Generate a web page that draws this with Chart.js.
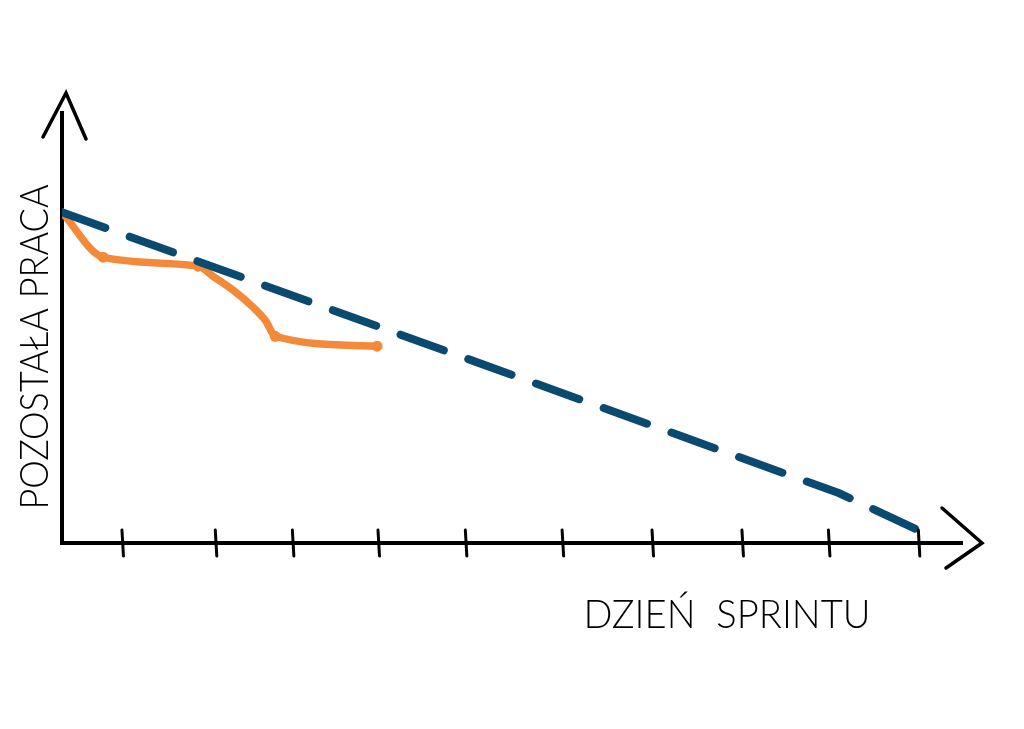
<!DOCTYPE html>
<html>
<head>
<meta charset="utf-8">
<script src="https://cdn.jsdelivr.net/npm/chart.js@4/dist/chart.umd.min.js"></script>
<style>
  html, body { margin: 0; padding: 0; background: #fff; }
  #wrap { width: 1024px; height: 729px; }
</style>
</head>
<body>
<div id="wrap"><canvas id="burndown"></canvas></div>
<script>
// values (x = sprint day, y = remaining work)
var idealDays = [0, 9.07, 10];
var idealWork = [100, 15.1, 3.9];
var actualDays = [0, 0.48, 1.59, 1.76, 2.0, 2.23, 2.38, 2.49, 3.68];
var actualWork = [100, 86.4, 83.7, 80.7, 76.4, 71.3, 67.1, 62.5, 59.5];
var actualDots = [0, 5.5, 5.5, 0, 0, 0, 0, 5.5, 5.5];
var dayTicks = [0.70, 1.79, 2.69, 3.69, 4.71, 5.84, 6.89, 7.94, 8.95, 10.0];
var xTitle = "DZIEŃ  SPRINTU";
var yTitle = "POZOSTAŁA PRACA";

function toPoints(xs, ys) {
    var pts = [];
    for (var i = 0; i < xs.length; i++) pts.push({x: xs[i], y: ys[i]});
    return pts;
}

// hand drawn bits: tick marks crossing the axis, arrow heads, axis titles
var sketchPlugin = {
    id: 'sketch',
    afterDraw: function(chart) {
        var ctx = chart.ctx;
        var a = chart.chartArea;
        var xs = chart.scales.x;
        ctx.save();
        ctx.strokeStyle = '#000';
        ctx.lineCap = 'round';
        ctx.lineWidth = 3;
        dayTicks.forEach(function(d) {
            var px = xs.getPixelForValue(d);
            ctx.beginPath();
            ctx.moveTo(px, a.bottom - 13);
            ctx.lineTo(px + 1.5, a.bottom + 13);
            ctx.stroke();
        });
        // y arrow
        ctx.lineWidth = 3.5;
        ctx.beginPath();
        ctx.moveTo(a.left - 19, a.top + 24);
        ctx.lineTo(a.left + 4, a.top - 20);
        ctx.lineTo(a.left + 24, a.top + 26);
        ctx.stroke();
        // x arrow
        ctx.beginPath();
        ctx.moveTo(a.right - 20, a.bottom - 35);
        ctx.lineTo(a.right + 20, a.bottom);
        ctx.lineTo(a.right - 16, a.bottom + 25);
        ctx.stroke();

        ctx.fillStyle = '#000';
        ctx.font = '300 40px Lato';
        ctx.textBaseline = 'middle';
        ctx.textAlign = 'center';
        // x title
        var w = ctx.measureText(xTitle).width;
        ctx.save();
        ctx.translate(727, a.bottom + 72);
        ctx.scale(287 / w, 1);
        ctx.fillText(xTitle, 0, 0);
        ctx.restore();
        // y title
        w = ctx.measureText(yTitle).width;
        ctx.save();
        ctx.translate(a.left - 27, 347);
        ctx.rotate(-Math.PI / 2);
        ctx.scale(325 / w, 1);
        ctx.fillText(yTitle, 0, 0);
        ctx.restore();
        ctx.restore();
    }
};

var ctx = document.getElementById("burndown");
var chartB = new Chart(ctx, {
    type: "line",
    data: {
        datasets: [{
            label: "Ideal",
            data: toPoints(idealDays, idealWork),
            borderColor: '#0b4a70',
            borderWidth: 8,
            borderDash: [46, 26],
            borderCapStyle: 'round',
            pointRadius: 0,
            tension: 0
        }, {
            label: "Actual",
            data: toPoints(actualDays, actualWork),
            borderColor: '#f5893a',
            backgroundColor: '#f5893a',
            borderWidth: 7.5,
            borderCapStyle: 'round',
            borderJoinStyle: 'round',
            pointRadius: actualDots,
            pointBorderWidth: 0,
            cubicInterpolationMode: 'monotone'
        }]
    },
    options: {
        responsive: true,
        maintainAspectRatio: false,
        animation: false,
        layout: { padding: { left: 54, right: 62, top: 113, bottom: 178 } },
        plugins: { legend: { display: false }, tooltip: { enabled: false } },
        scales: {
            x: {
                type: 'linear',
                min: 0,
                max: 10.51,
                grid: { display: false },
                ticks: { display: false },
                border: { color: '#000', width: 4 }
            },
            y: {
                min: 0,
                max: 130,
                grid: { display: false },
                ticks: { display: false },
                border: { color: '#000', width: 4 }
            }
        }
    },
    plugins: [sketchPlugin]
});
</script>
</body>
</html>
